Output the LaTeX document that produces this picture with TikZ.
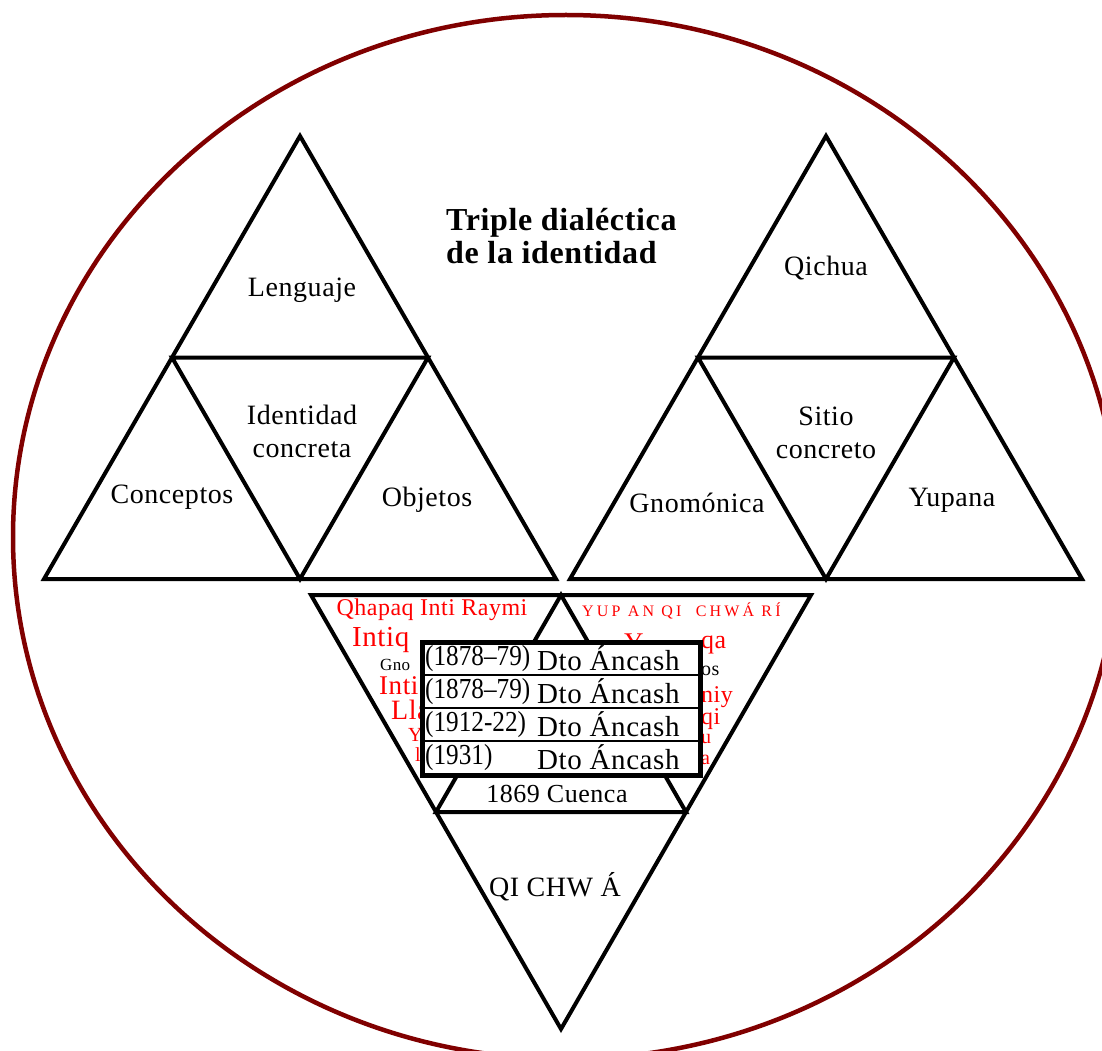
\documentclass[tikz,border=0pt]{standalone}
\usepackage{fontspec}
\setmainfont{Liberation Serif}[LetterSpace=2]
\usetikzlibrary{positioning}
\definecolor{borde}{RGB}{128,0,0}
\definecolor{rojo}{RGB}{255,0,0}

\begin{document}
\begin{tikzpicture}[
  x=1pt, y=-1pt,
  tri/.style={line width=4pt, line join=miter},
  etiqueta/.style={font=\fontsize{28}{33}\selectfont, align=center, inner sep=0pt},
  titulo/.style={font=\bfseries\fontsize{32}{33}\selectfont, inner sep=0pt, anchor=base west},
  roja/.style={text=rojo, inner sep=0pt, anchor=west, text depth=0pt, text height=0.6em},
  fila/.style={font=\fontsize{29}{29}\selectfont, inner sep=0pt, anchor=west},
  anio/.style={fila, font=\fontsize{29}{29}\selectfont\addfontfeatures{LetterSpace=0,FakeStretch=0.87}}]

  \useasboundingbox (0,0) rectangle (1102,1051);
  \clip (0,0) rectangle (1102,1051);
  \draw[borde, line width=4.5pt] (566,537) ellipse [x radius=553, y radius=522];

  \foreach \cx in {300,826}{
    \draw[tri] (\cx,136) -- ({\cx+256},579) -- ({\cx-256},579) -- cycle;
    \draw[tri] ({\cx-128},357.5) -- ({\cx+128},357.5) -- (\cx,579) -- cycle;
  }
  \draw[tri] (311,595) -- (811,595) -- (561,1029) -- cycle;
  \draw[tri] (561,595) -- (436,812) -- (686,812) -- cycle;

  \node[titulo] (tit1) at (446,230) {Triple dialéctica};
  \node[titulo] (tit2) at ([yshift=-33pt]tit1.base west) {de la identidad};

  \node[etiqueta] (lenguaje) at (302,290) {Lenguaje};
  \node[etiqueta] (identidad) at (302,431) {Identidad\\concreta};
  \node[etiqueta] (conceptos) at (172,497) {Conceptos};
  \node[etiqueta] (objetos) at (427,500) {Objetos};
  \node[etiqueta] (qichua) at (826,268) {Qichua};
  \node[etiqueta] (sitio) at (826,433) {Sitio\\concreto};
  \node[etiqueta] (gnomonica) at (697,503) {Gnomónica};
  \node[etiqueta] (yupana) at (952,500) {Yupana};

  \node[roja, anchor=center, font=\fontsize{24}{24}\selectfont] (qhapaq) at (432,612) {Qhapaq Inti Raymi};
  \node[roja, font=\fontsize{29}{29}\selectfont] (intiq) at (352,643) {Intiq};
  \node[roja, text=black, font=\fontsize{17}{17}\selectfont] (gno) at (380,667) {Gno};
  \node[roja, font=\fontsize{27}{27}\selectfont] (inti) at (379,691) {Inti};
  \node[roja, font=\fontsize{28}{28}\selectfont] (lla) at (391,716) {Lla};
  \node[roja, font=\fontsize{20}{20}\selectfont] (y1) at (408,738) {Y};
  \node[roja, font=\fontsize{20}{20}\selectfont] (l1) at (415,758) {l};

  \node[roja, font=\fontsize{16}{16}\selectfont\addfontfeatures{LetterSpace=20}] (yupanqi) at (582,613) {YUP AN QI\ \ CHWÁ RÍ};
  \node[roja, font=\fontsize{27}{27}\selectfont] (y2) at (624,648) {Y};
  \node[roja, font=\fontsize{26}{26}\selectfont] (qa) at (701,645) {qa};
  \node[roja, text=black, font=\fontsize{20}{20}\selectfont] (os) at (701,672) {os};
  \node[roja, font=\fontsize{24}{24}\selectfont] (niy) at (701,699) {niy};
  \node[roja, font=\fontsize{24}{24}\selectfont] (qi) at (701,721) {qi};
  \node[roja, font=\fontsize{20}{20}\selectfont] (u) at (701,740) {u};
  \node[roja, font=\fontsize{20}{20}\selectfont] (a) at (701,761) {a};

  \draw[line width=5pt, fill=white] (422,642) rectangle (700,775);
  \foreach \y in {675,708,741}
    \draw[line width=1.5pt] (422,\y) -- (700,\y);
  \foreach \i/\yr in {1/{(1878--79)},2/{(1878--79)},3/{(1912-22)},4/{(1931)}}{
    \node[anio] (anio\i) at (425,{642+33*\i-16.5}) {\yr};
    \node[fila] (dto\i) at (537,{642+33*\i-16.5}) {Dto Áncash};
  }

  \node[font=\fontsize{26}{26}\selectfont, inner sep=0pt] (cuenca) at (557,794) {1869 Cuenca};
  \node[font=\fontsize{28}{28}\selectfont, inner sep=0pt] (qichwa) at (555,887) {QI CHW Á};
\end{tikzpicture}
\end{document}
